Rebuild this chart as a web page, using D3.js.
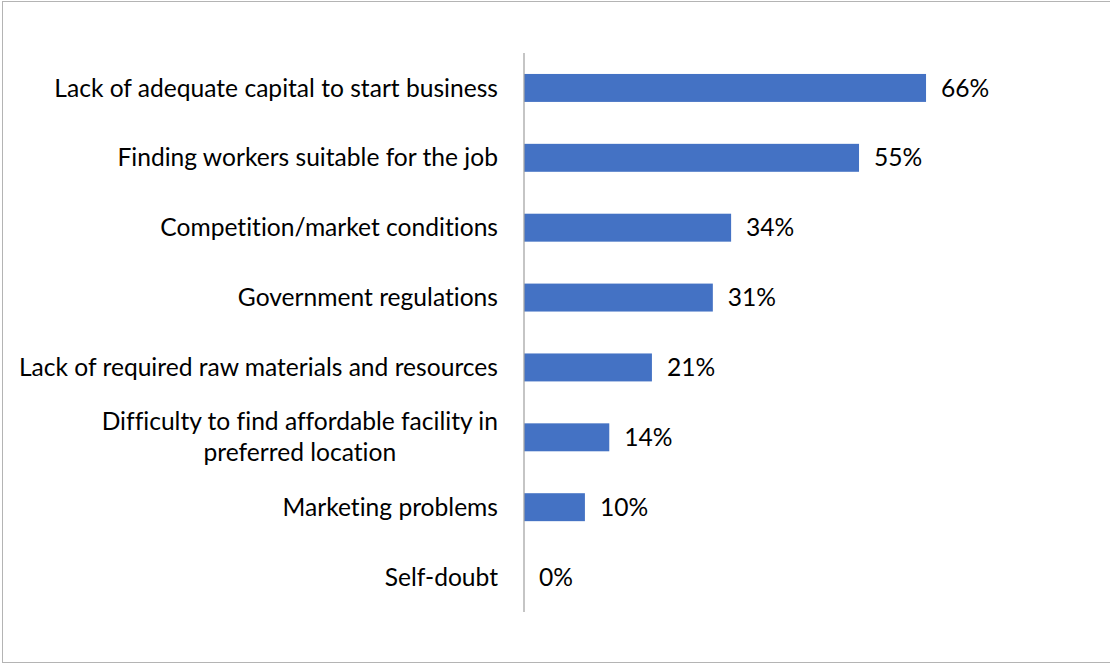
<!DOCTYPE html>
<html>
<head>
<meta charset="utf-8">
<script src="https://cdn.jsdelivr.net/npm/d3@7"></script>
<style>
  html, body { margin: 0; padding: 0; background: #fff; }
  svg { display: block; }
  text { font-family: Lato, "Open Sans", sans-serif; fill: #000; font-variant-ligatures: none; }
</style>
</head>
<body>
<svg id="chart" width="1110" height="664"></svg>
<script>
// Obstacles to starting a business (share of respondents)
const categories = [
  ["Lack of adequate capital to start business"],
  ["Finding workers suitable for the job"],
  ["Competition/market conditions"],
  ["Government regulations"],
  ["Lack of required raw materials and resources"],
  ["Difficulty to find affordable facility in", "preferred location"],
  ["Marketing problems"],
  ["Self-doubt"]
];
const values = [0.66, 0.55, 0.34, 0.31, 0.21, 0.14, 0.10, 0.00];
const valueLabels = ["66%", "55%", "34%", "31%", "21%", "14%", "10%", "0%"];

const W = 1110, H = 664;
const margin = { top: 53, right: 160, bottom: 52, left: 524 };
const fontSize = 24.6;
const svg = d3.select("#chart");

// outer frame
svg.append("rect")
  .attr("x", 2.5).attr("y", 1.5)
  .attr("width", W + 10).attr("height", 661)
  .attr("fill", "none").attr("stroke", "#b4b4b4").attr("stroke-width", 1);

const x = d3.scaleLinear().domain([0, 0.70]).range([margin.left, margin.left + 426.4]);
const y = d3.scaleBand()
  .domain(d3.range(categories.length))
  .range([margin.top, H - margin.bottom])
  .paddingInner(0.6).paddingOuter(0.3);

const g = svg.append("g");

g.selectAll("rect.bar")
  .data(values)
  .join("rect")
  .attr("class", "bar")
  .attr("x", x(0))
  .attr("y", (d, i) => y(i))
  .attr("width", d => x(d) - x(0))
  .attr("height", y.bandwidth())
  .attr("fill", "#4472C4");

// value labels
g.selectAll("text.val")
  .data(values)
  .join("text")
  .attr("class", "val")
  .attr("x", d => x(d) + 15)
  .attr("y", (d, i) => y(i) + y.bandwidth() / 2)
  .attr("dy", "0.35em")
  .attr("font-size", fontSize)
  .text((d, i) => valueLabels[i]);

// category labels (right aligned, multi-line blocks centered)
const labelRight = 498;
const lineH = 31;
categories.forEach((lines, i) => {
  const cy = y(i) + y.bandwidth() / 2;
  const t = g.append("text").attr("font-size", fontSize);
  if (lines.length === 1) {
    t.attr("x", labelRight).attr("y", cy).attr("dy", "0.35em")
      .attr("text-anchor", "end").text(lines[0]);
  } else {
    t.attr("text-anchor", "middle");
    const spans = lines.map((s, k) => t.append("tspan")
      .attr("y", cy + (k - (lines.length - 1) / 2) * lineH)
      .attr("dy", "0.35em").text(s));
    const maxW = d3.max(spans, s => s.node().getComputedTextLength());
    spans.forEach(s => s.attr("x", labelRight - maxW / 2));
  }
});

// category axis line
svg.append("line")
  .attr("x1", x(0)).attr("x2", x(0))
  .attr("y1", margin.top).attr("y2", H - margin.bottom)
  .attr("stroke", "#a6a6a6").attr("stroke-width", 1.3);
</script>
</body>
</html>
